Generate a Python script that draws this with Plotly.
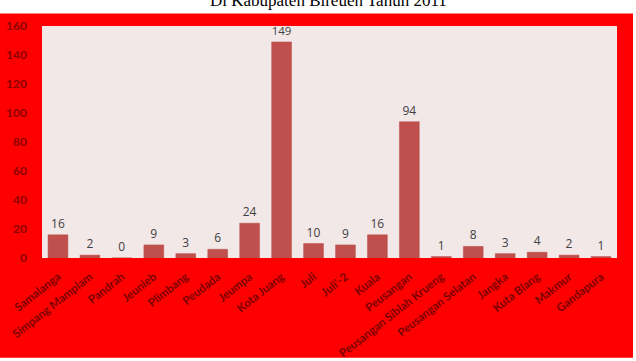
import plotly.graph_objects as go

categories = ["Samalanga", "Simpang Mamplam", "Pandrah", "Jeunieb", "Plimbang", "Peudada",
              "Jeumpa", "Kota Juang", "Juli", "Juli'-2", "Kuala", "Peusangan",
              "Peusangan Siblah Krueng", "Peusangan Selatan", "Jangka", "Kuta Blang",
              "Makmur", "Gandapura"]
values = [16, 2, 0, 9, 3, 6, 24, 149, 10, 9, 16, 94, 1, 8, 3, 4, 2, 1]
y_ticks = [0, 20, 40, 60, 80, 100, 120, 140, 160]
title_text = "Di Kabupaten Bireuen Tahun 2011"

W, H = 636, 361
L, R, T, B = 42, 617, 25.5, 258
pw, ph = R - L, B - T

def px(x):
    return (x - L) / pw

def py(y):
    return (B - y) / ph

fig = go.Figure()
fig.add_trace(go.Bar(
    x=categories, y=values,
    marker=dict(color="#C0504D", line=dict(color="#B94A47", width=0.5)),
    text=[str(v) for v in values], textposition="outside",
    textfont=dict(family="Open Sans", size=12, color="#404040"),
    outsidetextfont=dict(family="Open Sans", size=12, color="#404040"),
    cliponaxis=False,
))

shapes = [
    dict(type="rect", xref="paper", yref="paper", x0=px(-5), x1=px(W + 5), y0=py(13), y1=py(-5),
         fillcolor="white", line=dict(width=0), layer="above"),
    dict(type="rect", xref="paper", yref="paper", x0=px(633), x1=px(W + 5), y0=py(H + 5), y1=py(-5),
         fillcolor="white", line=dict(width=0), layer="above"),
    dict(type="rect", xref="paper", yref="paper", x0=px(-5), x1=px(W + 5), y0=py(H + 5), y1=py(358),
         fillcolor="white", line=dict(width=0), layer="above"),
]

fig.update_layout(
    width=W, height=H,
    margin=dict(l=L, r=W - R, t=T, b=H - B, pad=0, autoexpand=False),
    paper_bgcolor="#FF0000",
    plot_bgcolor="#F3E8E8",
    bargap=0.38,
    showlegend=False,
    shapes=shapes,
    annotations=[dict(text=title_text, xref="paper", yref="paper", x=px(328), y=py(0),
                      xanchor="center", yanchor="middle", showarrow=False,
                      font=dict(family="Liberation Serif", size=17, color="#000000"))],
    xaxis=dict(tickangle=-38, showgrid=False, showline=False, ticks="", automargin=False,
               ticklabelstandoff=9,
               tickfont=dict(family="Lato", size=11.5, weight=700, color="#7A0000")),
    yaxis=dict(range=[0, 160], tickvals=y_ticks, showgrid=False, showline=False, zeroline=False,
               ticks="", ticklabelstandoff=14, automargin=False,
               tickfont=dict(family="Lato", size=12, weight=700, color="#8C0000")),
)

fig.write_html("out.html")
